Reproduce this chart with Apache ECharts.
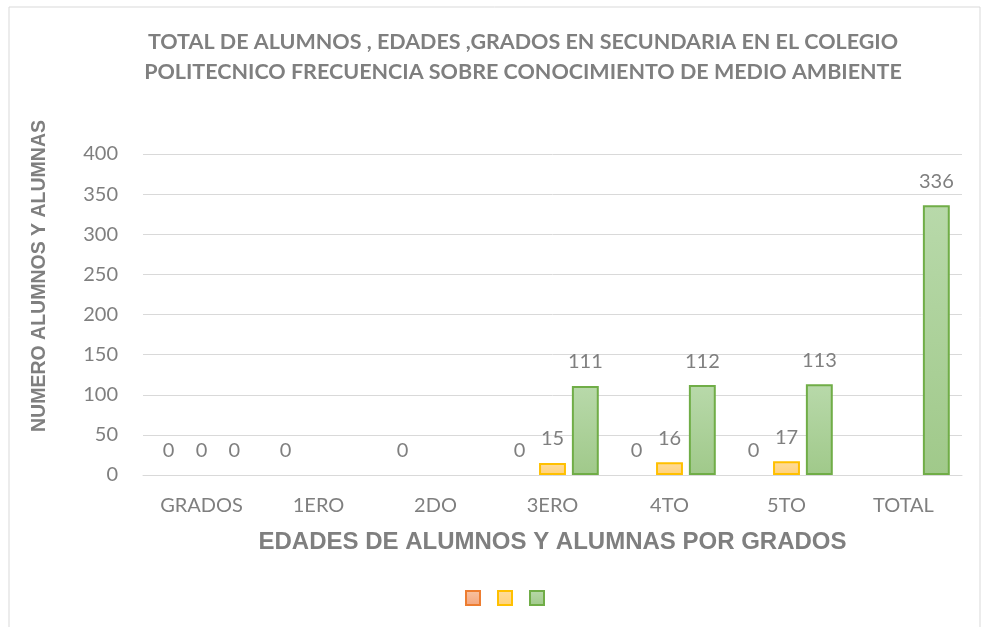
<!DOCTYPE html>
<html>
<head>
<meta charset="utf-8">
<script src="https://cdn.jsdelivr.net/npm/echarts@6/dist/echarts.min.js"></script>
<style>
  html, body { margin: 0; padding: 0; background: #fff; }
  #chart { width: 982px; height: 627px; }
</style>
</head>
<body>
<div id="chart"></div>
<script>
var categories = ["GRADOS", "1ERO", "2DO", "3ERO", "4TO", "5TO", "TOTAL"];
var seriesNames = ["Serie1", "Serie2", "Serie3"];
var serieNaranja = [0, 0, 0, 0, 0, 0, null];
var serieAmarilla = [0, null, null, 15, 16, 17, null];
var serieVerde = [0, null, null, 111, 112, 113, 336];
var yTicks = { min: 0, max: 400, interval: 50 };

var gris = "#7f7f7f";

function grad(top, bottom) {
  return new echarts.graphic.LinearGradient(0, 0, 0, 1, [
    { offset: 0, color: top },
    { offset: 1, color: bottom }
  ]);
}

// las barras en cero no llevan borde visible
function sinBordeEnCero(arr) {
  return arr.map(function(v) {
    if (v === 0) return { value: 0, itemStyle: { borderWidth: 0 } };
    return v;
  });
}

var labelStyle = {
  show: true,
  position: "top",
  distance: 14,
  color: gris,
  fontFamily: "Lato",
  fontSize: 20
};

var chart = echarts.init(document.getElementById("chart"));

var option = {
  animation: false,
  title: {
    text: "TOTAL DE ALUMNOS , EDADES ,GRADOS EN SECUNDARIA EN EL COLEGIO\nPOLITECNICO FRECUENCIA SOBRE CONOCIMIENTO DE MEDIO AMBIENTE",
    left: 518,
    top: 22,
    textAlign: "center",
    textStyle: {
      color: gris,
      fontFamily: "Lato",
      fontWeight: "bold",
      fontSize: 21.5,
      lineHeight: 30
    }
  },
  graphic: [
    {
      type: "rect",
      shape: { x: 9, y: 7, width: 971, height: 630 },
      style: { fill: "none", stroke: "#d9d9d9", lineWidth: 1 },
      silent: true
    },
    {
      // titulo del eje vertical
      type: "text",
      x: 40,
      y: 276,
      rotation: Math.PI / 2,
      style: {
        text: "NUMERO ALUMNOS Y ALUMNAS",
        fill: gris,
        fontFamily: "Liberation Sans",
        fontWeight: "bold",
        fontSize: 19.5,
        align: "center",
        verticalAlign: "middle"
      },
      silent: true
    }
  ],
  legend: {
    bottom: 16,
    left: 460,
    icon: "rect",
    itemWidth: 14,
    itemHeight: 14,
    itemGap: 16,
    formatter: function() { return ""; },
    data: seriesNames
  },
  grid: {
    left: 143,
    right: 20,
    top: 154,
    bottom: 152
  },
  xAxis: {
    type: "category",
    data: categories,
    name: "EDADES DE ALUMNOS Y ALUMNAS POR GRADOS",
    nameLocation: "middle",
    nameGap: 55,
    nameTextStyle: {
      color: gris,
      fontFamily: "Liberation Sans",
      fontWeight: "bold",
      fontSize: 24
    },
    axisLine: { lineStyle: { color: "#d9d9d9" } },
    axisTick: { show: false },
    axisLabel: {
      color: gris,
      fontFamily: "Lato",
      fontSize: 20,
      margin: 21
    }
  },
  yAxis: {
    type: "value",
    min: yTicks.min,
    max: yTicks.max,
    interval: yTicks.interval,
    axisLine: { show: false },
    axisTick: { show: false },
    splitLine: { lineStyle: { color: "#d9d9d9" } },
    axisLabel: {
      color: gris,
      fontFamily: "Lato",
      fontSize: 20,
      margin: 25
    }
  },
  series: [
    {
      name: seriesNames[0],
      type: "bar",
      data: sinBordeEnCero(serieNaranja),
      barWidth: "23%",
      barGap: "22%",
      itemStyle: { color: grad("#f8c3a3", "#f4a57c"), borderColor: "#ed7d31", borderWidth: 2 },
      label: labelStyle
    },
    {
      name: seriesNames[1],
      type: "bar",
      data: sinBordeEnCero(serieAmarilla),
      barWidth: "23%",
      barGap: "22%",
      itemStyle: { color: grad("#ffdc9c", "#ffd27a"), borderColor: "#ffc000", borderWidth: 2 },
      label: labelStyle
    },
    {
      name: seriesNames[2],
      type: "bar",
      data: sinBordeEnCero(serieVerde),
      barWidth: "23%",
      barGap: "22%",
      itemStyle: { color: grad("#b8d9aa", "#a0c98a"), borderColor: "#70ad47", borderWidth: 2 },
      label: labelStyle
    }
  ]
};

chart.setOption(option);
</script>
</body>
</html>
